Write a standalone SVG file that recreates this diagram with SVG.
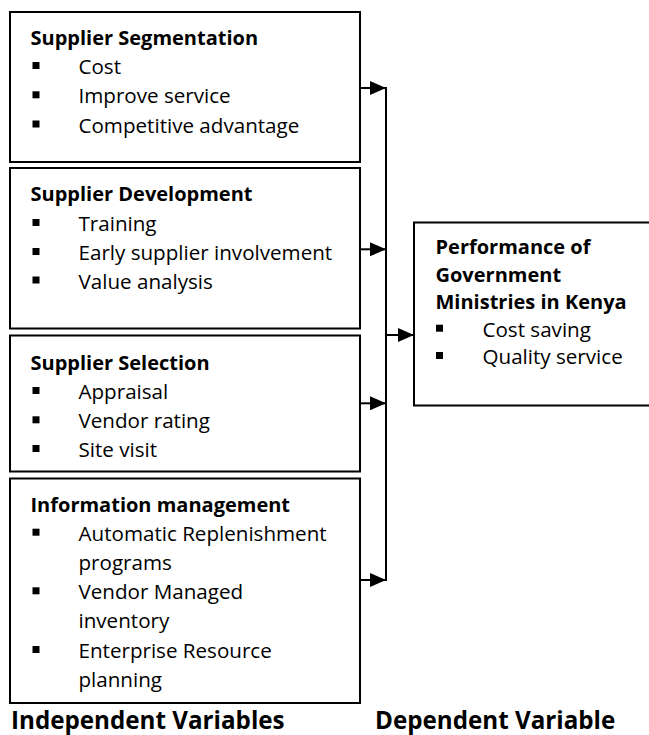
<svg xmlns="http://www.w3.org/2000/svg" xmlns:xlink="http://www.w3.org/1999/xlink" width="649" height="735" viewBox="0 0 649 735">
  <style>
    .box { fill: #ffffff; stroke: #000000; stroke-width: 2; }
    .t { font-family: "Open Sans", "Liberation Sans", sans-serif; font-size: 20.6px; fill: #000000; }
    .b { font-weight: bold; font-size: 20px; }
    .cap { font-family: "Open Sans", "Liberation Sans", sans-serif; font-size: 24.2px; font-weight: bold; fill: #000000; }
    .wire { stroke: #000000; stroke-width: 2; fill: none; }
    .arrow { stroke: #000000; stroke-width: 2; fill: none; marker-end: url(#head); }
  </style>
  <defs>
    <rect id="sq" width="7" height="7" fill="#000000"/>
    <marker id="head" markerUnits="userSpaceOnUse" markerWidth="16" markerHeight="14" refX="16" refY="7" orient="auto">
      <path d="M0,0 L16,7 L0,14 Z" fill="#000000"/>
    </marker>
  </defs>

  <rect width="649" height="735" fill="#ffffff"/>

  <!-- Independent variable: supplier segmentation -->
  <g id="supplier-segmentation">
    <rect class="box" x="10" y="12" width="350" height="150"/>
    <text class="t b" x="30.5" y="44.5">Supplier Segmentation</text>
    <use xlink:href="#sq" x="32.5" y="62"/>
    <text class="t" x="78.5" y="74">Cost</text>
    <use xlink:href="#sq" x="32.5" y="91.3"/>
    <text class="t" x="78.5" y="103.3">Improve service</text>
    <use xlink:href="#sq" x="32.5" y="120.5"/>
    <text class="t" x="78.5" y="132.5">Competitive advantage</text>
  </g>

  <!-- Independent variable: supplier development -->
  <g id="supplier-development">
    <rect class="box" x="10" y="168" width="350" height="160.5"/>
    <text class="t b" x="30.5" y="200.5">Supplier Development</text>
    <use xlink:href="#sq" x="32.5" y="219"/>
    <text class="t" x="78.5" y="231">Training</text>
    <use xlink:href="#sq" x="32.5" y="248"/>
    <text class="t" x="78.5" y="260">Early supplier involvement</text>
    <use xlink:href="#sq" x="32.5" y="276.5"/>
    <text class="t" x="78.5" y="288.5">Value analysis</text>
  </g>

  <!-- Independent variable: supplier selection -->
  <g id="supplier-selection">
    <rect class="box" x="10" y="335.5" width="350" height="136"/>
    <text class="t b" x="30.5" y="369.5">Supplier Selection</text>
    <use xlink:href="#sq" x="32.5" y="387"/>
    <text class="t" x="78.5" y="399">Appraisal</text>
    <use xlink:href="#sq" x="32.5" y="416.3"/>
    <text class="t" x="78.5" y="428.3">Vendor rating</text>
    <use xlink:href="#sq" x="32.5" y="445"/>
    <text class="t" x="78.5" y="457">Site visit</text>
  </g>

  <!-- Independent variable: information management -->
  <g id="information-management">
    <rect class="box" x="10" y="478.5" width="350" height="224.5"/>
    <text class="t b" x="30.5" y="511.5">Information management</text>
    <use xlink:href="#sq" x="32.5" y="528.7"/>
    <text class="t" x="78.5" y="540.7">Automatic Replenishment</text>
    <text class="t" x="78.5" y="570">programs</text>
    <use xlink:href="#sq" x="32.5" y="587.3"/>
    <text class="t" x="78.5" y="599.3">Vendor Managed</text>
    <text class="t" x="78.5" y="628.3">inventory</text>
    <use xlink:href="#sq" x="32.5" y="646"/>
    <text class="t" x="78.5" y="658">Enterprise Resource</text>
    <text class="t" x="78.5" y="687">planning</text>
  </g>

  <!-- Dependent variable (box runs past the right edge of the page) -->
  <g id="government-performance">
    <rect class="box" x="414" y="222.5" width="250" height="183"/>
    <text class="t b" x="435.5" y="254">Performance of</text>
    <text class="t b" x="435.5" y="281.7">Government</text>
    <text class="t b" x="435.5" y="309.3">Ministries in Kenya</text>
    <use xlink:href="#sq" x="436" y="324.7" width="6" height="6"/>
    <text class="t" x="482.5" y="336.7">Cost saving</text>
    <use xlink:href="#sq" x="436" y="352" width="6" height="6"/>
    <text class="t" x="482.5" y="364">Quality service</text>
  </g>

  <!-- Connectors: each box feeds a shared bus that points at the dependent variable -->
  <g id="connectors">
    <path class="wire" d="M386,87 V581"/>
    <path class="arrow" d="M360,88 H386"/>
    <path class="arrow" d="M360,249.3 H386"/>
    <path class="arrow" d="M360,403.3 H386"/>
    <path class="arrow" d="M360,580 H386"/>
    <path class="arrow" d="M386,335 H414"/>
  </g>

  <!-- Column captions -->
  <g id="captions">
    <text class="cap" x="11" y="728.5">Independent Variables</text>
    <text class="cap" x="375" y="728.5">Dependent Variable</text>
  </g>
</svg>
